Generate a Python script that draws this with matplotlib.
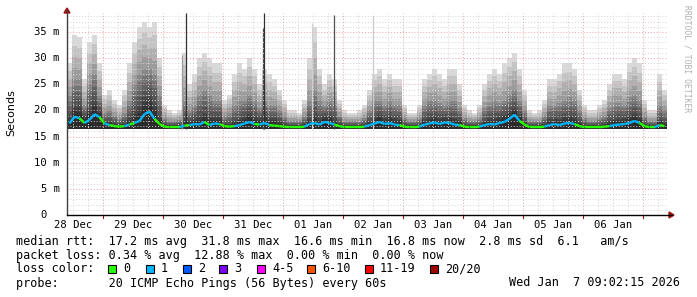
import numpy as np
import matplotlib
matplotlib.use('Agg')
import matplotlib.pyplot as plt
from matplotlib.collections import LineCollection

# Data (2 hour bins starting 28 Dec ~09:36, values in ms)
bin_hours = 2.0
rtt_max = [29, 34.5, 34, 26, 33, 34.5, 29, 23, 24, 22, 21, 24,
           29, 33, 36, 37, 36, 37, 30, 21, 20, 19.5, 20, 31,
           25, 27, 30, 31, 30, 29, 29, 22, 23, 27, 29, 28,
           30, 28, 25, 28, 27, 26, 24, 22, 20, 20, 19.5, 22,
           30, 36, 28, 25, 27, 26, 22, 20, 19.5, 19.5, 20, 21,
           24, 27, 28, 26, 27, 26, 26, 21, 19.5, 19.5, 21, 26,
           27, 28, 27, 26, 28, 28, 25, 21, 20, 19.5, 21, 25,
           27, 28, 27, 29, 30, 31, 28, 24, 20, 19.5, 20, 22,
           26, 26, 27, 29, 29, 28, 24, 21, 20, 20, 21, 22,
           25, 27, 27, 26, 29, 30, 29, 22, 20, 20, 27, 24]
rtt_upper = [23, 26, 26, 21, 25, 27, 23, 19.5, 20, 19, 18.5, 19.5,
             22, 25, 27, 28, 28, 27, 23, 18.5, 18, 18, 18.2, 22,
             20, 21, 23, 24, 23, 22, 22, 19, 19.5, 21, 22, 22,
             23, 22, 20.5, 22, 21, 21, 20, 19, 18, 18, 18, 19,
             22, 24, 22, 21, 22, 21, 19, 18, 18, 18, 18, 18.5,
             20, 22, 22, 21, 22, 21, 21, 18.5, 18, 18, 18.5, 21,
             22, 22, 21.5, 21, 22, 22, 20.5, 18.5, 18, 18, 18.5, 20.5,
             21.5, 22, 21.5, 22, 23, 24, 22, 20, 18, 18, 18, 19,
             21, 21, 21.5, 22, 22.5, 22, 20, 18.5, 18, 18, 18.5, 19,
             20.5, 21.5, 21.5, 21, 22.5, 23, 22, 19, 18, 18, 21, 20]
rtt_dense = [19, 21, 21, 19, 20.5, 22, 20, 18, 18, 17.6, 17.4, 17.6,
             18.5, 20, 21, 22.5, 23, 21.5, 19, 17.4, 17.3, 17.3, 17.3, 18.5,
             18, 18.5, 19, 19.5, 19, 19, 19, 17.5, 17.5, 18, 18.5, 19,
             19.5, 19, 18.5, 19, 18.5, 18.5, 18, 17.5, 17.3, 17.3, 17.3, 17.5,
             18.5, 19.5, 18.5, 19, 19, 18.5, 17.6, 17.3, 17.3, 17.3, 17.3, 17.4,
             18, 18.8, 19.2, 18.6, 19, 18.6, 18.4, 17.4, 17.3, 17.3, 17.4, 18.3,
             18.7, 19, 18.6, 18.8, 18.8, 18.6, 18.2, 17.4, 17.3, 17.3, 17.4, 18,
             18.5, 18.6, 18.8, 19.2, 19.8, 20.5, 19.3, 18, 17.3, 17.3, 17.3, 17.5,
             18.3, 18.6, 18.4, 18.8, 19, 18.8, 17.8, 17.3, 17.3, 17.3, 17.3, 17.5,
             18, 18.4, 18.5, 18.6, 19, 19.5, 18.8, 17.5, 17.3, 17.3, 18.2, 17.8]
rtt_median = [17.5, 18.8, 18.5, 17.6, 18.2, 19.3, 18.7, 17.5, 17.2, 17.0, 16.9, 17.0,
              17.3, 17.6, 18.0, 19.3, 19.8, 18.4, 17.4, 16.9, 16.8, 16.8, 16.8, 17.1,
              17.2, 17.4, 17.3, 17.8, 17.2, 17.5, 17.4, 17.0, 16.9, 17.0, 17.2, 17.5,
              17.8, 17.4, 17.3, 17.6, 17.2, 17.1, 17.0, 16.9, 16.8, 16.8, 16.8, 16.9,
              17.4, 17.6, 17.3, 17.8, 17.6, 17.3, 17.0, 16.8, 16.8, 16.8, 16.8, 16.9,
              17.2, 17.5, 17.8, 17.4, 17.6, 17.3, 17.2, 16.9, 16.8, 16.8, 16.9, 17.3,
              17.5, 17.7, 17.4, 17.7, 17.6, 17.3, 17.2, 16.9, 16.8, 16.8, 16.9, 17.2,
              17.4, 17.3, 17.6, 17.8, 18.4, 19.2, 18.0, 17.3, 16.8, 16.8, 16.8, 16.9,
              17.2, 17.4, 17.2, 17.5, 17.6, 17.4, 17.0, 16.8, 16.8, 16.8, 16.8, 16.9,
              17.0, 17.2, 17.3, 17.4, 17.6, 18.0, 17.6, 17.0, 16.8, 16.8, 17.2, 17.0]
loss = [0, 1, 1, 0, 1, 1, 1, 0, 1, 0, 0, 0,
        1, 0, 1, 1, 1, 1, 0, 0, 0, 0, 0, 1,
        0, 1, 1, 1, 0, 1, 1, 0, 0, 0, 1, 1,
        1, 1, 0, 1, 1, 0, 0, 0, 0, 0, 0, 0,
        1, 1, 1, 1, 1, 1, 0, 0, 0, 0, 0, 0,
        1, 1, 1, 1, 1, 1, 1, 0, 0, 0, 0, 1,
        1, 1, 1, 1, 1, 1, 1, 0, 0, 0, 0, 1,
        1, 1, 1, 1, 1, 1, 1, 0, 0, 0, 0, 0,
        1, 1, 1, 1, 1, 1, 0, 0, 0, 0, 0, 0,
        0, 1, 1, 1, 1, 1, 1, 0, 0, 0, 1, 0]
rtt_floor = 16.5

# single-sample spikes: hour, top value, gray
spike_hours = [46.0, 47.6, 78.4, 78.8, 98.0, 106.8, 122.4]
spike_tops = [30.6, 38.6, 35.8, 38.6, 36.7, 38.3, 38.0]
spike_grays = ['#9a9a9a', '#303030', '#505050', '#303030', '#d0d0d0', '#505050', '#c8c8c8']

day_labels = ['28 Dec', '29 Dec', '30 Dec', '31 Dec', '01 Jan',
              '02 Jan', '03 Jan', '04 Jan', '05 Jan', '06 Jan']
first_noon = 2.4  # hours after start
y_ticks = [0, 5, 10, 15, 20, 25, 30, 35]
y_ticklabels = ['0  ', '5 m', '10 m', '15 m', '20 m', '25 m', '30 m', '35 m']

loss_labels = ['0', '1', '2', '3', '4-5', '6-10', '11-19', '20/20']
loss_colors = ['#26ff00', '#00b8ff', '#0059ff', '#7e00ff', '#ff00ff', '#ff5500', '#ff0000', '#a10000']

W, H = 697, 297
L, R, T, B = 67, 668, 13, 215
x_max = (R - L) / 2.5
y_max = (B - T) / (183 / 35.0)

fig = plt.figure(figsize=(W / 100, H / 100), dpi=100)
fig.patch.set_facecolor('white')
ax = fig.add_axes([L / W, 1 - B / H, (R - L) / W, (B - T) / H])
ax.set_xlim(0, x_max)
ax.set_ylim(0, y_max)

n = len(rtt_max)
edges = np.arange(n + 1) * bin_hours
def stepvals(a):
    return np.append(a, a[-1])

mx, up, dn, md = [np.asarray(a, float) for a in (rtt_max, rtt_upper, rtt_dense, rtt_median)]

# smoke: nested gray layers, outer light -> inner dark
stops = [(mx, up), (up, dn), (dn, md)]
grays = [0.85, 0.77, 0.69, 0.61, 0.53, 0.46, 0.39, 0.33, 0.28, 0.24, 0.20, 0.17]
k = 0
for hi, lo in stops:
    for f in (0.0, 0.25, 0.5, 0.75):
        top = hi + (lo - hi) * f
        g = grays[k]
        ax.fill_between(edges, rtt_floor, stepvals(top), step='post', color=(g, g, g), lw=0, zorder=2)
        k += 1

for h, tp, g in zip(spike_hours, spike_tops, spike_grays):
    ax.vlines(h, rtt_floor, tp, color=g, lw=0.9, zorder=3)

# grid
mono = 'DejaVu Sans Mono'
for yv in range(1, 39):
    major = yv % 5 == 0
    ax.axhline(yv, color='#f0a0a0' if major else '#d4d4d4', lw=0.7, ls=(0, (1, 2)), zorder=4)
midnight0 = first_noon + 12
hv = first_noon
while hv < x_max:
    q = (hv - midnight0) / 24
    is_mid = abs(q - round(q)) < 1e-6
    ax.axvline(hv, color='#f0a0a0' if is_mid else '#d4d4d4', lw=0.7, ls=(0, (1, 2)), zorder=4)
    hv += 6

# median coloured by loss
centers = (np.arange(n) + 0.5) * bin_hours
pts = np.column_stack([centers, md])
segs = [pts[i:i + 2] for i in range(n - 1)]
seg_cols = [loss_colors[loss[i + 1]] for i in range(n - 1)]
ax.add_collection(LineCollection(segs, colors=seg_cols, linewidths=1.7, zorder=5, capstyle='butt'))

for s in ax.spines.values():
    s.set_visible(False)
ax.set_xticks([])
ax.set_yticks([])

# axes lines with arrows
fig.add_artist(plt.Line2D([L / W, L / W], [1 - B / H, 1 - 10 / H], color='#404040', lw=1.0))
fig.add_artist(plt.Line2D([L / W, 672 / W], [1 - B / H, 1 - B / H], color='black', lw=1.0))
fig.add_artist(plt.Polygon([[(L - 3) / W, 1 - 13 / H], [(L + 3) / W, 1 - 13 / H], [L / W, 1 - 8 / H]],
                           closed=True, color='#a01010', transform=fig.transFigure))
fig.add_artist(plt.Polygon([[669 / W, 1 - (B - 3) / H], [669 / W, 1 - (B + 3) / H], [674 / W, 1 - B / H]],
                           closed=True, color='#a01010', transform=fig.transFigure))
for kk in range(len(day_labels)):
    xh = first_noon + 12 + 24 * kk
    ax.plot([xh, xh], [0, -0.5], color='#a01010', lw=0.8, clip_on=False)

tfs = 7.6
for yv, lab in zip(y_ticks, y_ticklabels):
    ax.text(-2.8, yv, lab, ha='right', va='center', fontsize=tfs, family=mono)
for kk, lab in enumerate(day_labels):
    ax.text(first_noon + 24 * kk, -1.9, lab, ha='center', va='center', fontsize=tfs, family=mono)

fig.text(11 / W, 1 - 113 / H, 'Seconds', rotation=90, ha='center', va='center', fontsize=8,
         family='DejaVu Sans')
fig.text(687 / W, 1 - 5 / H, 'RRDTOOL / TOBI OETIKER', rotation=270, ha='center', va='top',
         fontsize=5.8, family=mono, color='#b0b0b0')

fs = 8.5
rows = [
    'median rtt:  17.2 ms avg  31.8 ms max  16.6 ms min  16.8 ms now  2.8 ms sd  6.1   am/s',
    'packet loss: 0.34 % avg  12.88 % max  0.00 % min  0.00 % now',
]
row_y = [242, 255.5, 269, 283]
for txt, yy in zip(rows, row_y):
    fig.text(16 / W, 1 - yy / H, txt, ha='left', va='center', fontsize=fs, family=mono)
fig.text(16 / W, 1 - row_y[2] / H, 'loss color:', ha='left', va='center', fontsize=fs, family=mono)
box_x = [108, 146, 183, 219, 257, 307, 365, 430]
for bx, lab, col in zip(box_x, loss_labels, loss_colors):
    fig.add_artist(plt.Rectangle((bx / W, 1 - (row_y[2] + 4) / H), 8 / W, 8 / H, facecolor=col,
                                 edgecolor='black', lw=0.8, transform=fig.transFigure))
    fig.text((bx + 15) / W, 1 - row_y[2] / H, lab, ha='left', va='center', fontsize=fs, family=mono)
fig.text(16 / W, 1 - row_y[3] / H, 'probe:       20 ICMP Echo Pings (56 Bytes) every 60s',
         ha='left', va='center', fontsize=fs, family=mono)
fig.text(680 / W, 1 - row_y[3] / H, 'Wed Jan  7 09:02:15 2026', ha='right', va='center',
         fontsize=fs, family=mono)

fig.savefig('out.png', dpi=100)
